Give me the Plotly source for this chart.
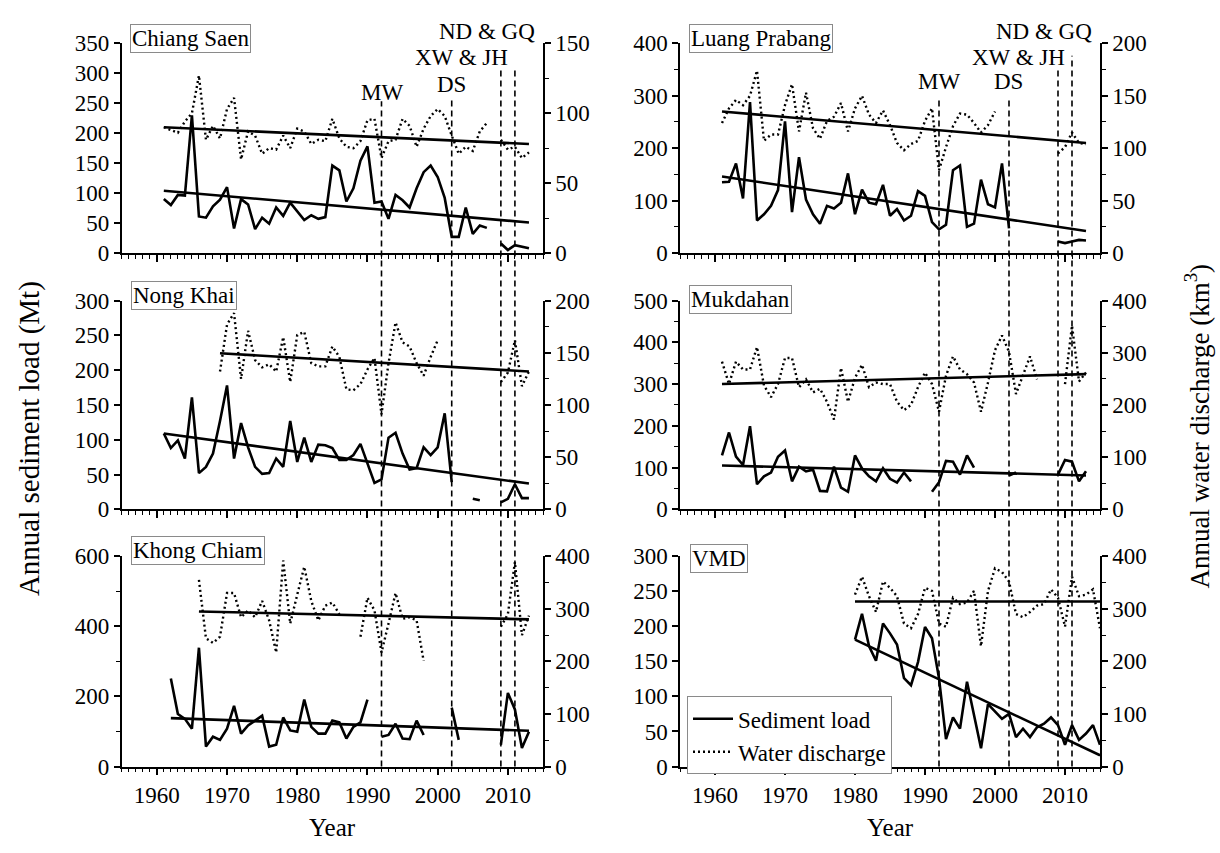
import plotly.graph_objects as go

W, H = 1220, 853
FONT = "Liberation Serif"

# ---------------- data ----------------
# Chiang Saen
cs_years = list(range(1961, 2014))
cs_sed = [90, 80, 97, 96, 230, 61, 59, 78, 89, 110,
          41, 90, 81, 40, 59, 49, 76, 62, 84, 70,
          55, 63, 57, 60, 146, 138, 86, 108, 154, 178,
          84, 86, 57, 97, 88, 76, 108, 135, 146, 127,
          92, 27, 27, 76, 32, 46, 42, None, 16, 5,
          13, 11, 8]
cs_wat = [90, 88, 86, 94, 100, 127, 81, 91, 82, 103,
          111, 67, 87, 84, 71, 75, 74, 84, 75, 89,
          87, 78, 81, 80, 96, 82, 76, 75, 80, 95,
          96, 68, 80, 81, 96, 91, 76, 89, 98, 103,
          98, 84, 71, 76, 73, 87, 93, None, 81, 74,
          76, 68, 72]
cs_sed_trend_years = [1961, 2013]
cs_sed_trend = [104, 51]
cs_wat_trend_years = [1961, 2013]
cs_wat_trend = [90, 78]

# Luang Prabang
lp_years = list(range(1961, 2014))
lp_sed = [135, 136, 171, 104, 288, 62, 74, 90, 120, 251,
          78, 183, 102, 74, 56, 90, 85, 96, 152, 74,
          121, 96, 93, 130, 71, 84, 62, 71, 118, 109,
          59, 45, 54, 158, 167, 50, 56, 140, 93, 87,
          171, 47, None, None, None, None, None, None, 22, 19,
          22, 25, 24]
lp_wat = [124, 138, 146, 141, 150, 174, 107, 113, 113, 141,
          161, 116, 153, 119, 109, 126, 130, 143, 116, 138,
          150, 132, 124, 136, 122, 105, 98, 104, 107, 126,
          138, 79, 101, 121, 133, 132, 124, 115, 122, 135,
          None, None, None, None, None, None, None, None, 95, 101,
          115, 105, 104]
lp_sed_trend_years = [1961, 2013]
lp_sed_trend = [146, 42]
lp_wat_trend_years = [1961, 2013]
lp_wat_trend = [135, 105]

# Nong Khai
nk_years = list(range(1961, 2014))
nk_sed = [109, 88, 99, 73, 161, 52, 61, 80, 127, 178,
          73, 124, 89, 61, 51, 52, 73, 61, 127, 68,
          103, 68, 93, 92, 88, 71, 71, 78, 94, 66,
          38, 43, 103, 110, 80, 57, 59, 89, 78, 89,
          138, 39, None, None, 15, 13, None, None, 10, 15,
          36, 16, 16]
nk_wat = ([None] * 8 +
          [132, 177, 188, 125, 171, 143, 136, 139, 132, 165,
           122, 167, 170, 140, 137, 137, 156, 146, 115, 114,
           120, 134, 145, 91, 140, 179, 160, 156, 140, 128,
           146, 162] +
          [None] * 8 +
          [122, 131, 162, 118, 132])
nk_sed_trend_years = [1961, 2013]
nk_sed_trend = [109, 37]
nk_wat_trend_years = [1969, 2013]
nk_wat_trend = [149.5, 132]

# Mukdahan
mk_years = list(range(1961, 2014))
mk_sed = [129, 184, 126, 106, 199, 60, 79, 88, 126, 141,
          67, 102, 91, 95, 44, 43, 102, 52, 42, 129,
          98, 79, 67, 98, 73, 64, 88, 67, None, None,
          42, 65, 116, 114, 83, 129, 100, None, None, None,
          None, 81, 88, None, None, None, None, None, 83, 118,
          114, 67, 91]
mk_wat = [283, 240, 283, 268, 268, 311, 237, 215, 240, 290,
          290, 234, 249, 224, 231, 206, 172, 271, 206, 252,
          277, 234, 243, 240, 240, 206, 190, 200, 234, 262,
          240, 187, 256, 293, 268, 259, 243, 187, 243, 305,
          333, 302, 221, 259, 293, 249, None, None, None, 240,
          352, 245, 262]
mk_sed_trend_years = [1961, 2013]
mk_sed_trend = [105, 81]
mk_wat_trend_years = [1961, 2013]
mk_wat_trend = [240, 259]

# Khong Chiam
kc_years = list(range(1962, 2014))
kc_sed = [251, 150, 136, 108, 339, 57, 85, 76, 108,
          173, 94, 117, 131, 145, 57, 62, 140, 103, 99,
          191, 113, 94, 94, 131, 126, 80, 113, 126, 191,
          None, 85, 90, 122, 80, 78, 131, 90, None, None,
          None, 168, 76, None, None, None, None, None, 62, 210,
          163, 53, 99]
kc_wat = ([None] * 4 +
          [355, 244, 235, 247, 330, 330, 284, 297, 284, 315,
           278, 217, 392, 272, 327, 380, 315, 278, 306, 312, 290] +
          [None] * 2 +
          [247, 321, 297, 217, 272, 330, 281, 284, 278, 201] +
          [None] * 10 +
          [266, 290, 389, 250, 287])
kc_sed_trend_years = [1962, 2013]
kc_sed_trend = [138, 102]
kc_wat_trend_years = [1966, 2013]
kc_wat_trend = [295, 280]

# VMD
vm_years = list(range(1980, 2016))
vm_sed = [181, 218, 172, 151, 204, 190, 174, 126, 116, 149,
          199, 183, 126, 39, 70, 54, 121, 75, 26, 89,
          79, 68, 75, 42, 54, 42, 56, 61, 70, 59,
          31, 59, 38, 47, 59, 31]
vm_wat = [327, 361, 324, 294, 352, 340, 324, 272, 263, 290,
          340, 334, 272, 266, 321, 309, 312, 334, 229, 334,
          377, 370, 352, 290, 284, 294, 306, 309, 337, 321,
          266, 361, 324, 327, 337, 263]
vm_sed_trend_years = [1980, 2015]
vm_sed_trend = [181, 16]
vm_wat_trend_years = [1980, 2015]
vm_wat_trend = [314, 314]

station_names = ["Chiang Saen", "Luang Prabang", "Nong Khai", "Mukdahan", "Khong Chiam", "VMD"]
# axis specs: (max, dtick, minor dtick)
sed_axis = [(350, 50, None), (400, 100, 50), (300, 50, None), (500, 100, 50), (600, 200, 100), (300, 50, None)]
wat_axis = [(150, 50, 25), (200, 50, 25), (200, 50, 25), (400, 100, 50), (400, 100, 50), (400, 100, 50)]

event_years = [1992, 2002, 2009, 2011]
event_labels = ["MW", "DS", "XW & JH", "ND & GQ"]

# ---------------- layout geometry (pixels) ----------------
col_px = [(121.7, 543.0), (680.0, 1100.0)]
row_px = [(32.3, 248.3), (297.3, 512.3), (560.7, 777.3)]


def px_x(p):
    return p / W


def px_y(p):
    return 1 - p / H


series = [
    (cs_years, cs_sed, cs_wat, cs_sed_trend_years, cs_sed_trend, cs_wat_trend_years, cs_wat_trend),
    (lp_years, lp_sed, lp_wat, lp_sed_trend_years, lp_sed_trend, lp_wat_trend_years, lp_wat_trend),
    (nk_years, nk_sed, nk_wat, nk_sed_trend_years, nk_sed_trend, nk_wat_trend_years, nk_wat_trend),
    (mk_years, mk_sed, mk_wat, mk_sed_trend_years, mk_sed_trend, mk_wat_trend_years, mk_wat_trend),
    (kc_years, kc_sed, kc_wat, kc_sed_trend_years, kc_sed_trend, kc_wat_trend_years, kc_wat_trend),
    (vm_years, vm_sed, vm_wat, vm_sed_trend_years, vm_sed_trend, vm_wat_trend_years, vm_wat_trend),
]

tickfont = dict(family=FONT, size=23, color="black")
fig = go.Figure()
layout = {}


def ref(prefix, n):
    return prefix if n == 1 else f"{prefix}{n}"


def key(prefix, n):
    return f"{prefix}axis" if n == 1 else f"{prefix}axis{n}"


for i, (yrs, sed, wat, sty, stv, wty, wtv) in enumerate(series):
    r, c = divmod(i, 2)
    xn, yln, yrn = i + 1, 2 * i + 1, 2 * i + 2
    xr, ylr, yrr = ref("x", xn), ref("y", yln), ref("y", yrn)
    last = i == 5

    fig.add_trace(go.Scatter(x=yrs, y=wat, xaxis=xr, yaxis=yrr, mode="lines",
                             line=dict(color="black", width=2.4, dash="2px,3px"),
                             name="Water discharge", showlegend=last, legendrank=2,
                             connectgaps=False))
    fig.add_trace(go.Scatter(x=wty, y=wtv, xaxis=xr, yaxis=yrr, mode="lines",
                             line=dict(color="black", width=2.6), showlegend=False))
    fig.add_trace(go.Scatter(x=yrs, y=sed, xaxis=xr, yaxis=ylr, mode="lines",
                             line=dict(color="black", width=2.6),
                             name="Sediment load", showlegend=last, legendrank=1,
                             connectgaps=False))
    fig.add_trace(go.Scatter(x=sty, y=stv, xaxis=xr, yaxis=ylr, mode="lines",
                             line=dict(color="black", width=2.6), showlegend=False))

    x0, x1 = col_px[c]
    yt, yb = row_px[r]
    layout[key("x", xn)] = dict(
        domain=[px_x(x0), px_x(x1)], range=[1955, 2015], anchor=ylr,
        tick0=1960, dtick=10, ticks="outside", ticklen=7, tickwidth=1.5, tickcolor="black",
        minor=dict(dtick=1, tick0=1955, ticks="outside", ticklen=4, tickwidth=1.2, tickcolor="black"),
        showline=True, linecolor="black", linewidth=1.5, showgrid=False, zeroline=False,
        showticklabels=(r == 2), tickfont=tickfont, fixedrange=True)

    smax, sdt, smin = sed_axis[i]
    ycfg = dict(domain=[px_y(yb), px_y(yt)], range=[0, smax], tick0=0, dtick=sdt, anchor=xr,
                side="left", ticks="outside", ticklen=6, tickwidth=1.5, tickcolor="black",
                showline=True, linecolor="black", linewidth=1.5, showgrid=False, zeroline=False,
                tickfont=tickfont, fixedrange=True)
    if smin:
        ycfg["minor"] = dict(dtick=smin, tick0=0, ticks="outside", ticklen=4, tickwidth=1.2, tickcolor="black")
    layout[key("y", yln)] = ycfg

    wmax, wdt, wmin = wat_axis[i]
    ycfg2 = dict(range=[0, wmax], tick0=0, dtick=wdt, anchor=xr, overlaying=ylr,
                 side="right", ticks="outside", ticklen=6, tickwidth=1.5, tickcolor="black",
                 showline=True, linecolor="black", linewidth=1.5, showgrid=False, zeroline=False,
                 tickfont=tickfont, fixedrange=True)
    if wmin:
        ycfg2["minor"] = dict(dtick=wmin, tick0=0, ticks="outside", ticklen=4, tickwidth=1.2, tickcolor="black")
    layout[key("y", yrn)] = ycfg2

annotations = []
# station name boxes
name_pos = [(130, 12), (689, 12), (131, 277), (689, 281), (131, 540), (690, 548)]
for nm, (px, py) in zip(station_names, name_pos):
    annotations.append(dict(text=nm, xref="paper", yref="paper", x=px_x(px), y=px_y(py),
                            xanchor="left", yanchor="top", showarrow=False,
                            font=dict(family=FONT, size=23, color="black"),
                            bordercolor="#8a8a8a", borderwidth=1, borderpad=1, bgcolor="white"))

# event lines & labels
line_tops = [[92, 87, 60, 57], [88, 88, 58, 45]]
label_pos = [
    [(0, 83, "center"), (0, 75, "center"), (1.3, 47, "right"), (3.1, 20, "right")],
    [(0, 72, "center"), (0, 72, "center"), (1.3, 47, "right"), (3.1, 20, "right")],
]
shapes = []
for c in range(2):
    xr = "x" if c == 0 else "x2"
    for k, (yr, lab) in enumerate(zip(event_years, event_labels)):
        shapes.append(dict(type="line", xref=xr, yref="paper", x0=yr, x1=yr,
                           y0=px_y(777.3), y1=px_y(line_tops[c][k]),
                           line=dict(color="black", width=1.6, dash="6px,4px")))
        dx, ly, anc = label_pos[c][k]
        annotations.append(dict(text=lab, xref=xr, yref="paper", x=yr + dx, y=px_y(ly),
                                xanchor=anc, yanchor="middle", showarrow=False,
                                font=dict(family=FONT, size=23, color="black")))

# axis titles
annotations.append(dict(text="Annual sediment load (Mt)", xref="paper", yref="paper",
                        x=px_x(29), y=px_y(440), textangle=-90, showarrow=False,
                        xanchor="center", yanchor="middle",
                        font=dict(family=FONT, size=29, color="black")))
annotations.append(dict(text="Annual water discharge (km<sup>3</sup>)", xref="paper", yref="paper",
                        x=px_x(1198), y=px_y(427), textangle=-90, showarrow=False,
                        xanchor="center", yanchor="middle",
                        font=dict(family=FONT, size=27, color="black")))
for c in range(2):
    x0, x1 = col_px[c]
    annotations.append(dict(text="Year", xref="paper", yref="paper",
                            x=px_x((x0 + x1) / 2), y=px_y(840), showarrow=False,
                            xanchor="center", yanchor="middle",
                            font=dict(family=FONT, size=25, color="black")))

fig.update_layout(
    width=W, height=H, margin=dict(l=0, r=0, t=0, b=0),
    paper_bgcolor="white", plot_bgcolor="white",
    font=dict(family=FONT, size=23, color="black"),
    annotations=annotations, shapes=shapes,
    legend=dict(x=px_x(687), y=px_y(705), xanchor="left", yanchor="top",
                bgcolor="white", bordercolor="#8a8a8a", borderwidth=1,
                font=dict(family=FONT, size=23, color="black"), tracegroupgap=0,
                itemwidth=40),
    **layout,
)

fig.write_html("out.html")
